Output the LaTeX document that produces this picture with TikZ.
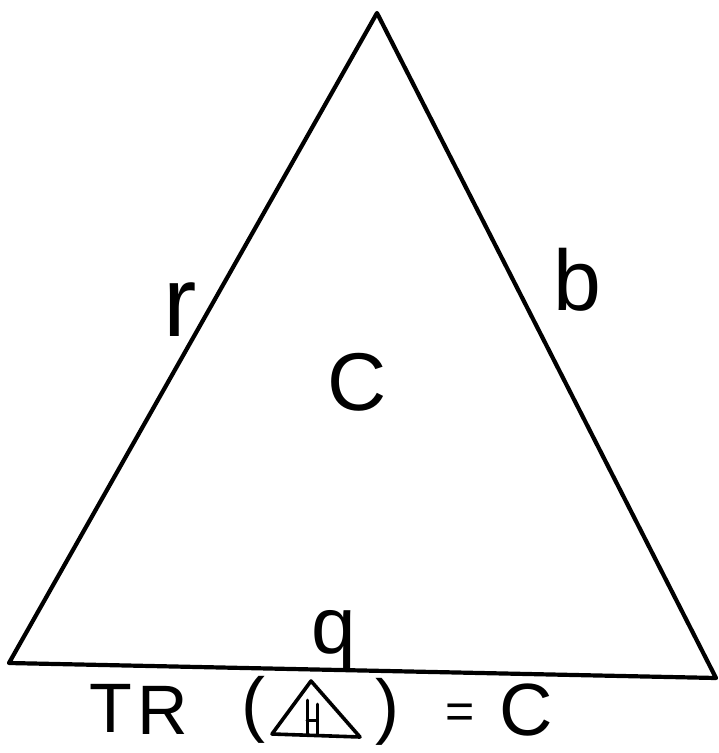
\documentclass[tikz,border=0pt]{standalone}
\usepackage{fontspec}
\setmainfont{Liberation Sans}
\begin{document}
\begin{tikzpicture}[x=1pt,y=-1pt,
  edge/.style={line width=4.2pt,line cap=round,line join=round},
  lbl/.style={inner sep=0pt,anchor=center}]
\useasboundingbox (0,0) rectangle (719,753);
\coordinate (A) at (377,13);
\coordinate (L) at (9,663);
\coordinate (R) at (716,678);
\draw[edge] (L) -- (A) -- (R) -- cycle;
\node[lbl,font=\fontsize{100}{110}\selectfont] (r) at (180,310) {r};
\node[lbl,font=\fontsize{86}{100}\selectfont] (b) at (577,280) {b};
\node[lbl,font=\fontsize{82}{90}\selectfont] (c) at (357,382) {C};
\node[lbl,font=\fontsize{80}{90}\selectfont] (q) at (334,640) {q};
% formula
\node[lbl,font=\fontsize{70}{80}\selectfont] (T) at (111,708) {T};
\node[lbl,font=\fontsize{70}{80}\selectfont] (Rr) at (163,710) {R};
\node[lbl,font=\fontsize{72}{80}\selectfont] (lp) at (253,710) {(};
\node[lbl,font=\fontsize{72}{80}\selectfont] (rp) at (387,712) {)};
\node[lbl,font=\fontsize{50}{56}\selectfont] (eq) at (460,716) {=};
\node[lbl,font=\fontsize{74}{80}\selectfont] (C2) at (526,710) {C};
\coordinate (ta) at (311,681);
\coordinate (tl) at (272,734);
\coordinate (tr) at (360,737);
\draw[edge,line width=3.6pt] (tl) -- (ta) -- (tr) -- cycle;
\coordinate (h1) at (307,700);
\coordinate (h1b) at (307,735);
\coordinate (h2) at (317,704);
\coordinate (h2b) at (317,735);
\coordinate (hm1) at (307,720);
\coordinate (hm2) at (317,720);
\draw[edge,line width=3pt] (h1) -- (h1b) (h2) -- (h2b) (hm1) -- (hm2);
\end{tikzpicture}
\end{document}
